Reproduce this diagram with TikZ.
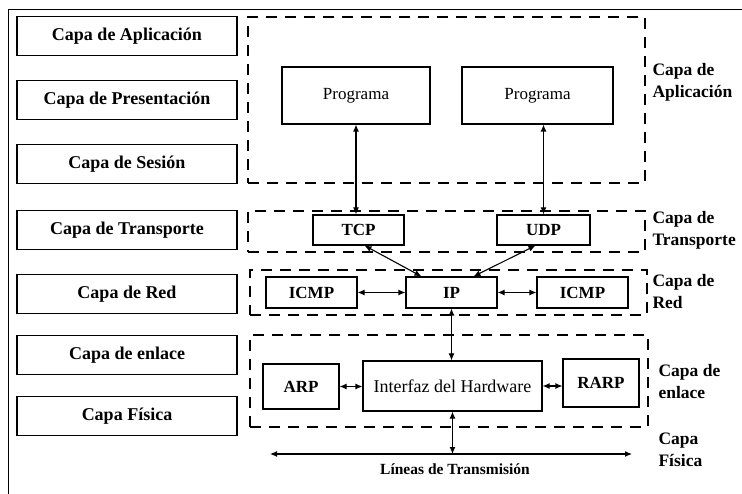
\documentclass[tikz,border=0pt]{standalone}
\usepackage{fontspec}
\setmainfont{Liberation Serif}
\usetikzlibrary{arrows.meta,positioning}

\begin{document}
\begin{tikzpicture}[x=1pt,y=-1pt,font=\fontsize{17}{19}\selectfont,line width=1.1pt,
  b/.style={draw,minimum width=91pt,minimum height=31pt,inner sep=1.5pt,font=\fontsize{17}{19}\selectfont\bfseries},
  capa/.style={draw,minimum width=220pt,minimum height=39pt,font=\fontsize{18}{20}\selectfont\bfseries},
  zona/.style={draw,dash pattern=on 11pt off 8pt,inner sep=0pt},
  lbl/.style={anchor=west,align=left,inner sep=0pt,font=\fontsize{17.5}{22}\selectfont\bfseries},
  da/.style={{Latex[length=7pt,width=6pt]}-{Latex[length=7pt,width=6pt]}}]
\useasboundingbox (0,0) rectangle (742,494);
% ---- outer frame ----
\draw[line width=1pt] (8,494) -- (8,10) -- (742,10);
% ---- OSI layers (left column) ----
\node[capa] (osi1) at (127,36)  {Capa de Aplicación};
\node[capa] (osi2) at (127,100) {Capa de Presentación};
\node[capa] (osi3) at (127,164) {Capa de Sesión};
\node[capa] (osi4) at (127,230) {Capa de Transporte};
\node[capa] (osi5) at (127,294) {Capa de Red};
\node[capa] (osi6) at (127,355) {Capa de enlace};
\node[capa] (osi7) at (127,416) {Capa Física};
% ---- TCP/IP zones (dashed) ----
\node[zona,minimum width=397pt,minimum height=166pt] (zapp)   at (446.5,100) {};
\node[zona,minimum width=397pt,minimum height=41pt]  (ztrans) at (446.5,231.5) {};
\node[zona,minimum width=397pt,minimum height=45pt]  (zred)   at (448.5,292.5) {};
\node[zona,minimum width=398pt,minimum height=92pt]  (zenl)   at (449,381) {};
% ---- boxes ----
\node[b,font=\fontsize{17}{19}\selectfont,minimum width=148pt,minimum height=57pt] (prog1) at (356,95.5) {Programa};
\node[b,font=\fontsize{17}{19}\selectfont,minimum width=151pt,minimum height=57pt] (prog2) at (537.5,95.5) {Programa};
\node[b,minimum height=30pt] (tcp) at (358.5,230) {TCP};
\node[b,minimum width=93pt,minimum height=30pt] (udp) at (543.5,230) {UDP};
\node[b] (icmp1) at (311.5,292.5) {ICMP};
\node[b] (ip)    at (451.5,292.5) {IP};
\node[b] (icmp2) at (582.5,292.5) {ICMP};
\node[b,minimum width=76pt,minimum height=45pt] (arp) at (301,386.5) {ARP};
\node[b,font=\fontsize{18}{20}\selectfont,minimum width=179pt,minimum height=50pt] (hw) at (452.5,386) {Interfaz del Hardware};
\node[b,minimum width=76pt,minimum height=48pt] (rarp) at (601,383) {RARP};
% ---- transmission line ----
\coordinate (tl) at (270,454);
\coordinate (tr) at (632,454);
\draw[da] (tl) -- (tr);
\node[font=\fontsize{15.5}{17}\selectfont\bfseries] (lin) at (455,469) {Líneas de Transmisión};
% ---- connectors ----
\draw[da] (prog1.south) -- (prog1.south |- tcp.north);
\draw[da] (udp.north |- prog2.south) -- (udp.north);
\draw[da] ([xshift=6pt]tcp.south) -- ([xshift=-30pt]ip.north);
\draw[da] ([xshift=-8pt]udp.south) -- ([xshift=22pt]ip.north);
\draw[da] (icmp1.east) -- (ip.west);
\draw[da] (ip.east) -- (icmp2.west);
\draw[da] (ip.south) -- (ip.south |- hw.north);
\draw[da] (arp.east) -- (arp.east -| hw.west);
\draw[da] (hw.east) -- (hw.east -| rarp.west);
\draw[da] (hw.south) -- (hw.south |- tl);
% ---- layer labels (right) ----
\node[lbl] (lapp)   at (652,82)  {Capa de\\Aplicación};
\node[lbl] (ltrans) at (652,230) {Capa de\\Transporte};
\node[lbl] (lred)   at (652,292) {Capa de\\Red};
\node[lbl] (lenl)   at (658,382) {Capa de\\enlace};
\node[lbl] (lfis)   at (658,450) {Capa\\Física};
\end{tikzpicture}
\end{document}
